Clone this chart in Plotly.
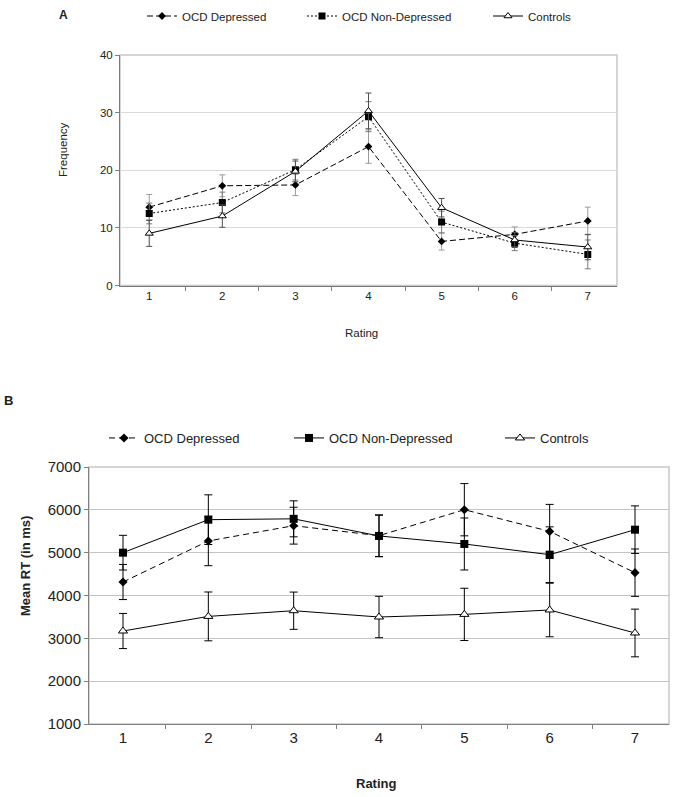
import plotly.graph_objects as go

# ---------------- data ----------------
ratings = ["1", "2", "3", "4", "5", "6", "7"]

freq_dep = [13.6, 17.3, 17.45, 24.1, 7.65, 8.87, 11.2]
freq_dep_err = [2.2, 1.9, 1.85, 2.9, 1.5, 1.3, 2.4]
freq_nondep = [12.5, 14.4, 20.1, 29.3, 11.0, 7.35, 5.4]
freq_nondep_err = [1.8, 1.8, 1.8, 2.6, 1.9, 1.3, 2.5]
freq_ctrl = [9.04, 12.05, 19.8, 30.3, 13.5, 7.9, 6.67]
freq_ctrl_err = [2.25, 1.95, 1.8, 3.1, 1.6, 1.3, 2.2]

rt_dep = [4315, 5273, 5630, 5397, 6003, 5497, 4533]
rt_dep_err = [410, 577, 430, 485, 610, 630, 553]
rt_nondep = [5000, 5770, 5790, 5390, 5203, 4953, 5537]
rt_nondep_err = [405, 580, 420, 485, 607, 650, 555]
rt_ctrl = [3171, 3512, 3645, 3498, 3559, 3662, 3125]
rt_ctrl_err = [410, 570, 435, 483, 610, 625, 557]

series_names = ["OCD Depressed", "OCD Non-Depressed", "Controls"]

W, H = 677, 797
FONT = "Liberation Sans, Arial, sans-serif"


def px_x(p):
    return p / W


def px_y(p):
    return 1 - p / H


fig = go.Figure()

# ---------------- Panel A ----------------
a_specs = [
    (freq_dep, freq_dep_err, dict(color="black", width=1, dash="6px,3px"),
     dict(symbol="diamond", size=6, color="black"), "#9a9a9a", "legend"),
    (freq_nondep, freq_nondep_err, dict(color="black", width=1, dash="2px,2px"),
     dict(symbol="square", size=7, color="black"), "#7a7a7a", "legend2"),
    (freq_ctrl, freq_ctrl_err, dict(color="black", width=1),
     dict(symbol="triangle-up", size=7, color="white", line=dict(color="black", width=1)),
     "#505050", "legend3"),
]
for name, (vals, errs, line, marker, ecol, lg) in zip(series_names, a_specs):
    fig.add_trace(go.Scatter(
        x=ratings, y=vals, name=name, mode="lines+markers",
        line=line, marker=marker,
        error_y=dict(type="data", array=errs, color=ecol, thickness=1, width=3),
        xaxis="x", yaxis="y", legend=lg, showlegend=True,
    ))

# ---------------- Panel B ----------------
b_specs = [
    (rt_dep, rt_dep_err, dict(color="black", width=1, dash="6px,4px"),
     dict(symbol="diamond", size=7, color="black"), "legend4"),
    (rt_nondep, rt_nondep_err, dict(color="black", width=1),
     dict(symbol="square", size=8, color="black"), "legend5"),
    (rt_ctrl, rt_ctrl_err, dict(color="black", width=1),
     dict(symbol="triangle-up", size=8, color="white", line=dict(color="black", width=1)),
     "legend6"),
]
for name, (vals, errs, line, marker, lg) in zip(series_names, b_specs):
    fig.add_trace(go.Scatter(
        x=ratings, y=vals, name=name, mode="lines+markers",
        line=line, marker=marker,
        error_y=dict(type="data", array=errs, color="black", thickness=1, width=4),
        xaxis="x2", yaxis="y2", legend=lg, showlegend=True,
    ))

# ---------------- geometry ----------------
A_left, A_right, A_top, A_bottom = 120, 617, 55, 285.5
B_left, B_right, B_top, B_bottom = 89, 669, 467, 724

tickA = dict(family=FONT, size=11.5, color="#222")
tickB = dict(family=FONT, size=15, color="#222")

fig.update_layout(
    width=W, height=H,
    showlegend=True,
    margin=dict(l=0, r=0, t=0, b=0),
    paper_bgcolor="white", plot_bgcolor="white",
    font=dict(family=FONT, color="#222"),
    xaxis=dict(domain=[px_x(A_left), px_x(A_right)], anchor="y", type="category",
               tickson="boundaries", ticks="outside", ticklen=4, tickcolor="#808080",
               showline=True, linecolor="#7a7a7a", linewidth=1, showgrid=False,
               tickfont=tickA, automargin=False, zeroline=False),
    yaxis=dict(domain=[px_y(A_bottom), px_y(A_top)], anchor="x", range=[0, 40],
               dtick=10, ticks="outside", ticklen=4, tickcolor="#808080",
               showline=True, linecolor="#7a7a7a", linewidth=1,
               showgrid=True, gridcolor="#dadada", gridwidth=1,
               tickfont=tickA, automargin=False, zeroline=False),
    xaxis2=dict(domain=[px_x(B_left), px_x(B_right)], anchor="y2", type="category",
                tickson="boundaries", ticks="outside", ticklen=4, tickcolor="#808080",
                showline=True, linecolor="#808080", linewidth=1, showgrid=False,
                tickfont=tickB, automargin=False, zeroline=False),
    yaxis2=dict(domain=[px_y(B_bottom), px_y(B_top)], anchor="x2", range=[1000, 7000],
                dtick=1000, ticks="outside", ticklen=4, tickcolor="#808080",
                showline=True, linecolor="#808080", linewidth=1,
                showgrid=True, gridcolor="#c4c4c4", gridwidth=1,
                tickfont=tickB, automargin=False, zeroline=False),
)

# plot-area borders (top/right light gray)
fig.add_shape(type="rect", xref="x domain", yref="y domain", x0=0, x1=1, y0=0, y1=1,
              line=dict(color="#c8c8c8", width=1.5), layer="below")
fig.add_shape(type="rect", xref="x2 domain", yref="y2 domain", x0=0, x1=1, y0=0, y1=1,
              line=dict(color="#c8c8c8", width=1.5), layer="below")

# ---------------- legends ----------------
def leg(text_start, yc, size):
    return dict(x=px_x(text_start - 42), y=px_y(yc), xanchor="left", yanchor="middle",
                orientation="h", bgcolor="rgba(0,0,0,0)", borderwidth=0,
                font=dict(family=FONT, size=size, color="#222"), itemwidth=30,
                visible=True)

fig.update_layout(
    legend=leg(184, 16, 11.5),
    legend2=leg(344, 16, 11.5),
    legend3=leg(530, 16, 11.5),
    legend4=leg(146, 438, 13),
    legend5=leg(331, 438, 13),
    legend6=leg(542, 438, 13),
)

# ---------------- annotations ----------------
def ann(text, x, y, size, bold=False, angle=0):
    return dict(text=f"<b>{text}</b>" if bold else text, x=px_x(x), y=px_y(y),
                xref="paper", yref="paper", showarrow=False, textangle=angle,
                xanchor="center", yanchor="middle",
                font=dict(family=FONT, size=size, color="#222"))

fig.update_layout(annotations=[
    ann("A", 63, 15, 12, bold=True),
    ann("Frequency", 63, 150, 11.5, angle=-90),
    ann("Rating", 361, 333, 11.5),
    ann("B", 8, 400, 13, bold=True),
    ann("Mean RT (in ms)", 25, 566, 13, bold=True, angle=-90),
    ann("Rating", 376, 783, 13, bold=True),
])

fig.write_html("out.html", config={"displayModeBar": False})

# remove the browser's default body margin so the figure fills the window exactly
with open("out.html", "r", encoding="utf-8") as f:
    html = f.read()
html = html.replace("<head>", "<head><style>html,body{margin:0;padding:0;overflow:hidden;}</style>", 1)
with open("out.html", "w", encoding="utf-8") as f:
    f.write(html)
